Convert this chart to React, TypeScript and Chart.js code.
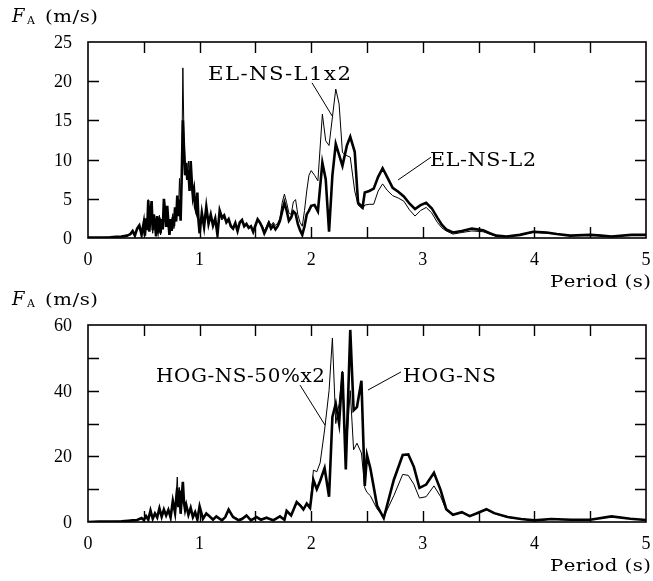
import React, { useEffect, useRef } from "react";
import { Chart, registerables } from "chart.js";
Chart.register(...registerables);

// ---------- Top panel data (EL-NS) ----------
const topPeriod = [
  0, 0.1, 0.2, 0.25, 0.3, 0.35, 0.38, 0.4, 0.42, 0.44, 0.46, 0.48, 0.5,
  0.51, 0.52, 0.53, 0.54, 0.55, 0.56, 0.57, 0.58, 0.59, 0.6,
  0.61, 0.62, 0.63, 0.64, 0.65, 0.66, 0.67, 0.68, 0.69, 0.7,
  0.71, 0.72, 0.73, 0.74, 0.75, 0.76, 0.77, 0.78, 0.79, 0.8,
  0.81, 0.82, 0.83, 0.84, 0.85, 0.86, 0.87, 0.88, 0.89, 0.9,
  0.91, 0.92, 0.93, 0.94, 0.95, 0.96, 0.97, 0.98, 0.99, 1.0,
  1.02, 1.04, 1.06, 1.08, 1.1, 1.12, 1.14, 1.16, 1.18, 1.2,
  1.22, 1.24, 1.26, 1.28, 1.3, 1.32, 1.34, 1.36, 1.38, 1.4,
  1.42, 1.44, 1.46, 1.48, 1.5, 1.52, 1.54, 1.56, 1.58, 1.6,
  1.62, 1.64, 1.66, 1.68, 1.7, 1.72, 1.74, 1.76, 1.78, 1.8,
  1.82, 1.84, 1.86, 1.88, 1.9, 1.92, 1.94, 1.96, 1.98, 2.0,
  2.03, 2.06, 2.1, 2.13, 2.16, 2.19, 2.22, 2.25, 2.28, 2.32, 2.35, 2.39,
  2.42, 2.46, 2.48, 2.52, 2.56, 2.6, 2.64, 2.68, 2.73, 2.78, 2.83, 2.88,
  2.93, 2.98, 3.03, 3.08, 3.13, 3.17, 3.21, 3.27, 3.35, 3.44, 3.54, 3.6,
  3.66, 3.75, 3.87, 3.99, 4.11, 4.2, 4.32, 4.5, 4.6, 4.69, 4.87, 5.0,
];
const topL2 = [
  0.05, 0.05, 0.1, 0.15, 0.2, 0.3, 0.5, 0.9, 0.3, 1.2, 1.6, 0.4, 2.0,
  0.3, 2.5, 1.0, 4.8, 0.8, 3.2, 4.7, 1.0, 3.0, 1.8,
  0.2, 2.8, 1.4, 2.6, 0.6, 2.4, 1.1, 5.0, 3.6, 1.4,
  4.1, 2.0, 0.4, 2.4, 0.9, 2.7, 1.5, 3.9, 2.1, 5.4,
  2.8, 4.9, 2.2, 8.0, 15.0, 11.5, 8.0, 9.6, 7.4, 8.7,
  6.0, 9.8, 7.2, 5.3, 6.1, 3.9, 3.4, 5.8, 2.2, 0.6,
  3.2, 1.4, 4.0, 1.8, 3.0, 1.6, 2.5, 0.4, 3.5, 2.6,
  2.9, 2.0, 2.4, 1.5, 1.2, 1.9, 0.9, 2.0, 2.3, 1.5,
  1.8, 1.3, 1.5, 0.8, 1.6, 2.4, 2.0, 1.4, 0.6, 1.2,
  1.9, 1.2, 1.6, 1.1, 1.5, 2.2, 3.4, 4.5, 3.5, 2.2,
  2.6, 3.4, 3.1, 1.8, 1.0, 0.4, 1.5, 3.0, 3.5, 4.1,
  4.2, 3.4, 9.6, 7.5, 0.8, 8.0, 12.0, 10.6, 9.2, 11.8, 12.9, 11.0,
  4.5, 3.9, 5.8, 6.0, 6.3, 7.8, 8.9, 7.8, 6.4, 5.9, 5.3, 4.4,
  3.7, 4.2, 4.5, 3.8, 2.6, 1.7, 1.1, 0.7, 0.9, 1.2, 1.0, 0.6,
  0.3, 0.2, 0.4, 0.8, 0.7, 0.5, 0.3, 0.4, 0.3, 0.2, 0.4, 0.4,
];
const topL1x2 = [
  0.05, 0.05, 0.1, 0.15, 0.2, 0.3, 0.4, 0.7, 0.5, 1.0, 1.3, 0.6, 1.7,
  0.5, 2.0, 1.3, 4.9, 1.2, 3.6, 4.2, 0.6, 2.6, 2.2,
  0.5, 2.4, 1.8, 2.9, 0.4, 2.0, 1.5, 4.6, 3.2, 1.8,
  3.6, 2.4, 0.8, 2.0, 1.3, 3.1, 1.2, 3.5, 2.5, 4.8,
  3.3, 7.6, 2.6, 9.0, 21.7, 13.0, 9.5, 8.6, 8.2, 9.8,
  6.6, 9.0, 6.5, 5.0, 5.4, 4.3, 3.0, 5.2, 2.8, 0.9,
  3.0, 1.7, 3.7, 2.1, 2.7, 1.9, 2.2, 0.7, 3.2, 2.3,
  2.6, 2.2, 2.1, 1.7, 1.4, 1.7, 1.1, 1.8, 2.1, 1.7,
  1.6, 1.5, 1.3, 1.0, 1.4, 2.2, 1.8, 1.6, 0.9, 1.5,
  2.2, 1.6, 2.0, 1.6, 1.9, 2.5, 4.5, 5.6, 4.5, 3.2,
  3.0, 4.6, 4.9, 3.0, 2.0, 1.5, 3.5, 6.0, 8.0, 8.6,
  8.0, 7.3, 15.8, 12.4, 11.8, 15.4, 19.0, 17.1, 10.9, 10.5, 10.3, 6.0,
  4.2, 3.7, 4.2, 4.3, 4.3, 6.0, 6.9, 6.1, 5.4, 5.1, 4.7, 3.6,
  2.8, 3.5, 3.9, 3.2, 2.0, 1.3, 0.9, 0.5, 0.7, 0.9, 0.8, 0.5,
  0.2, 0.2, 0.4, 0.7, 0.6, 0.5, 0.3, 0.4, 0.3, 0.2, 0.4, 0.4,
];

// ---------- Bottom panel data (HOG-NS) ----------
const botPeriod = [
  0, 0.1, 0.2, 0.3, 0.36, 0.4, 0.44, 0.48,
  0.5, 0.52, 0.54, 0.56, 0.58, 0.6, 0.62, 0.64, 0.66, 0.68, 0.7, 0.72, 0.74,
  0.76, 0.78, 0.79, 0.8, 0.81, 0.82, 0.83, 0.84, 0.85, 0.86, 0.87, 0.88,
  0.9, 0.92, 0.94, 0.96, 0.98, 1.0,
  1.03, 1.06, 1.08, 1.12, 1.15, 1.2, 1.23, 1.26, 1.3, 1.35, 1.38, 1.42, 1.46,
  1.51, 1.55, 1.6, 1.66, 1.72, 1.76, 1.78, 1.82, 1.87, 1.9, 1.93, 1.96, 1.99,
  2.02, 2.05, 2.08, 2.12, 2.16, 2.19, 2.22, 2.25, 2.28, 2.31, 2.35, 2.38,
  2.41, 2.45, 2.48, 2.5, 2.53, 2.59, 2.65, 2.74, 2.82, 2.87, 2.92, 2.97,
  3.03, 3.1, 3.16, 3.21, 3.27, 3.35, 3.42, 3.48, 3.57, 3.64, 3.76, 3.88,
  4.0, 4.15, 4.33, 4.5, 4.69, 4.86, 5.0,
];
const botHog = [
  0, 0.1, 0.15, 0.2, 0.4, 0.5, 0.6, 1.2,
  0.6, 1.8, 0.7, 3.5, 1.0, 2.6, 1.4, 4.2, 1.6, 3.8, 2.0, 3.7, 1.4,
  6.4, 2.8, 7.0, 10.5, 4.5, 9.6, 2.5, 7.5, 12.2, 6.0, 3.7, 5.2,
  2.2, 4.3, 1.5, 3.0, 0.8, 4.8,
  1.0, 2.6, 2.0, 0.7, 1.7, 0.5, 1.5, 3.8, 1.5, 0.5, 0.9, 2.0, 0.5,
  1.5, 0.7, 1.3, 0.5, 1.7, 0.7, 3.4, 2.0, 6.1, 5.1, 3.8, 5.6, 4.3,
  12.8, 10.0, 12.5, 16.4, 7.7, 32, 36, 30, 45.7, 16, 58.5, 34,
  35, 43, 11, 20.4, 16.4, 5, 1.2, 12.8, 20.4, 20.6, 16.8, 10.4,
  11.4, 15, 9.7, 3.9, 2.2, 3.0, 1.8, 2.6, 3.9, 2.7, 1.5, 0.9,
  0.5, 0.9, 0.7, 0.7, 1.7, 1.0, 0.6,
];
const botHog50x2 = [
  0, 0.1, 0.15, 0.2, 0.4, 0.5, 0.7, 1.0,
  0.8, 1.5, 1.0, 3.0, 1.4, 2.2, 1.8, 3.7, 2.0, 3.3, 2.4, 3.2, 1.8,
  6.9, 3.4, 8.0, 13.7, 5.5, 10.5, 3.2, 8.2, 11.0, 5.4, 4.2, 4.6,
  2.8, 3.8, 2.0, 2.6, 1.2, 4.2,
  1.3, 2.2, 2.3, 1.0, 1.4, 0.8, 1.2, 3.3, 1.8, 0.8, 1.2, 1.7, 0.8,
  1.3, 1.0, 1.1, 0.8, 1.5, 1.0, 3.0, 2.4, 5.6, 5.5, 4.2, 5.2, 5.0,
  15.8, 15.3, 18, 28, 40, 56, 30, 36, 46, 20, 40, 22,
  24, 21, 10.4, 9, 8, 4, 1.5, 8, 14.5, 14.2, 11.5, 7.3,
  7.7, 11, 7.7, 3.6, 2.2, 2.8, 1.8, 2.6, 3.7, 2.6, 1.4, 0.9,
  0.5, 0.8, 0.6, 0.7, 1.6, 1.0, 0.6,
];

// ---------- Axis ticks ----------
const xTickValues = [0, 1, 2, 3, 4, 5];
const xTickLabels = ["0", "1", "2", "3", "4", "5"];
const xMinorTicks = [0.5, 1, 1.5, 2, 2.5, 3, 3.5, 4, 4.5];
const topYLabels = [0, 5, 10, 15, 20, 25];
const topYTicks = [5, 10, 15, 20];
const botYLabels = [0, 20, 40, 60];
const botYTicks = [10, 20, 30, 40, 50];

const TICK_FONT = "18px 'Liberation Serif'";
const TEXT_FONT = "18px 'DejaVu Serif'";
const INK = "#000";

// draws text with glyphs stretched horizontally (up to maxStretch) to fill a given width
function drawSpaced(ctx: CanvasRenderingContext2D, text: string, x: number, y: number, width: number, maxStretch = 1.18) {
  const chars = Array.from(text);
  const ws = chars.map((c) => ctx.measureText(c).width);
  const total = ws.reduce((a, b) => a + b, 0);
  const sx = Math.max(1, Math.min(maxStretch, (width * 0.96) / total));
  const gap = chars.length > 1 ? (width - total * sx) / (chars.length - 1) : 0;
  ctx.textAlign = "left";
  let cx = x;
  chars.forEach((c, i) => {
    ctx.save();
    ctx.translate(cx, y);
    ctx.scale(sx, 1);
    ctx.fillText(c, 0, 0);
    ctx.restore();
    cx += ws[i] * sx + gap;
  });
}

type Ann = { text: string; x: number; y: number; w: number; line: [number, number, number, number] };
type PanelCfg = {
  yMax: number;
  yLabels: number[];
  yTicks: number[];
  anns: Ann[];
};

function framePlugin(cfg: PanelCfg) {
  return {
    id: "frameDeco",
    afterDatasetsDraw(chart: any) {
      const { ctx, chartArea: a, scales } = chart;
      const xs = scales.x;
      const ys = scales.y;
      const TL = 11;
      ctx.save();
      ctx.strokeStyle = "#000";
      ctx.lineWidth = 1.6;
      ctx.strokeRect(a.left, a.top, a.right - a.left, a.bottom - a.top);
      ctx.lineWidth = 1.4;
      ctx.beginPath();
      for (const t of xMinorTicks) {
        const px = Math.round(xs.getPixelForValue(t)) + 0.5;
        ctx.moveTo(px, a.top);
        ctx.lineTo(px, a.top + TL);
        ctx.moveTo(px, a.bottom);
        ctx.lineTo(px, a.bottom - TL);
      }
      for (const v of cfg.yTicks) {
        const py = Math.round(ys.getPixelForValue(v)) + 0.5;
        ctx.moveTo(a.left, py);
        ctx.lineTo(a.left + TL, py);
        ctx.moveTo(a.right, py);
        ctx.lineTo(a.right - TL, py);
      }
      ctx.stroke();

      ctx.fillStyle = INK;
      ctx.font = TICK_FONT;
      ctx.textAlign = "center";
      ctx.textBaseline = "alphabetic";
      xTickValues.forEach((v, i) => {
        ctx.fillText(xTickLabels[i], xs.getPixelForValue(v), a.bottom + 27);
      });
      ctx.textAlign = "right";
      cfg.yLabels.forEach((v) => {
        ctx.fillText(String(v), a.left - 16, ys.getPixelForValue(v) + 6);
      });

      // axis titles
      ctx.font = "17px 'DejaVu Serif'";
      drawSpaced(ctx, "Period (s)", 550, a.bottom + 49, 101);
      ctx.font = "italic 18px 'DejaVu Serif'";
      ctx.textAlign = "left";
      ctx.fillText("F", 12, a.top - 20);
      ctx.font = "11px 'DejaVu Serif'";
      ctx.fillText("A", 27, a.top - 18);
      ctx.font = "17px 'DejaVu Serif'";
      drawSpaced(ctx, "(m/s)", 45, a.top - 20, 53);

      // annotations
      ctx.font = TEXT_FONT;
      ctx.lineWidth = 1;
      for (const an of cfg.anns) {
        drawSpaced(ctx, an.text, xs.getPixelForValue(an.x), ys.getPixelForValue(an.y), an.w);
        ctx.beginPath();
        ctx.moveTo(xs.getPixelForValue(an.line[0]), ys.getPixelForValue(an.line[1]));
        ctx.lineTo(xs.getPixelForValue(an.line[2]), ys.getPixelForValue(an.line[3]));
        ctx.stroke();
      }
      ctx.restore();
    },
  };
}

function Panel(props: {
  height: number;
  top: number;
  padTop: number;
  padBottom: number;
  period: number[];
  thick: number[];
  thin: number[];
  thickName: string;
  thinName: string;
  cfg: PanelCfg;
}) {
  const ref = useRef<HTMLCanvasElement | null>(null);
  useEffect(() => {
    if (!ref.current) return;
    const { period, thick, thin, cfg } = props;
    const n = Math.min(period.length, thick.length, thin.length);
    const thickPts = [] as { x: number; y: number }[];
    const thinPts = [] as { x: number; y: number }[];
    for (let i = 0; i < n; i++) {
      thickPts.push({ x: period[i], y: thick[i] });
      thinPts.push({ x: period[i], y: thin[i] });
    }
    const chart = new Chart(ref.current, {
      type: "line",
      data: {
        datasets: [
          { label: props.thinName, data: thinPts, borderColor: "#000", borderWidth: 1, pointRadius: 0, tension: 0 },
          { label: props.thickName, data: thickPts, borderColor: "#000", borderWidth: 2.6, pointRadius: 0, tension: 0 },
        ],
      },
      options: {
        responsive: false,
        animation: false,
        devicePixelRatio: 1,
        layout: { padding: { left: 88, right: 7, top: props.padTop, bottom: props.padBottom } },
        plugins: { legend: { display: false }, tooltip: { enabled: false } },
        scales: {
          x: { type: "linear", min: 0, max: 5, display: false },
          y: { type: "linear", min: 0, max: cfg.yMax, display: false },
        },
      },
      plugins: [framePlugin(cfg)],
    } as any);
    return () => chart.destroy();
  }, []);
  return (
    <canvas
      ref={ref}
      width={653}
      height={props.height}
      style={{ position: "absolute", left: 0, top: props.top, width: 653, height: props.height, display: "block" }}
    />
  );
}

const topCfg: PanelCfg = {
  yMax: 25,
  yLabels: topYLabels,
  yTicks: topYTicks,
  anns: [
    { text: "EL-NS-L1x2", x: 1.075, y: 20.15, w: 143, line: [2.007, 19.8, 2.195, 15.4] },
    { text: "EL-NS-L2", x: 3.065, y: 9.18, w: 106, line: [3.073, 10.3, 2.778, 7.4] },
  ],
};
const botCfg: PanelCfg = {
  yMax: 60,
  yLabels: botYLabels,
  yTicks: botYTicks,
  anns: [
    { text: "HOG-NS-50%x2", x: 0.609, y: 42.6, w: 169, line: [1.9, 41.7, 2.124, 29.5] },
    { text: "HOG-NS", x: 2.823, y: 42.6, w: 93, line: [2.805, 45.7, 2.509, 40.2] },
  ],
};

export default function App() {
  return (
    <div style={{ position: "absolute", left: 0, top: 0, width: 653, height: 581, background: "#fff" }}>
      <Panel height={290} top={0} padTop={42} padBottom={52} period={topPeriod} thick={topL2} thin={topL1x2}
        thickName="EL-NS-L2" thinName="EL-NS-L1x2" cfg={topCfg} />
      <Panel height={291} top={290} padTop={35} padBottom={59} period={botPeriod} thick={botHog} thin={botHog50x2}
        thickName="HOG-NS" thinName="HOG-NS-50%x2" cfg={botCfg} />
    </div>
  );
}
